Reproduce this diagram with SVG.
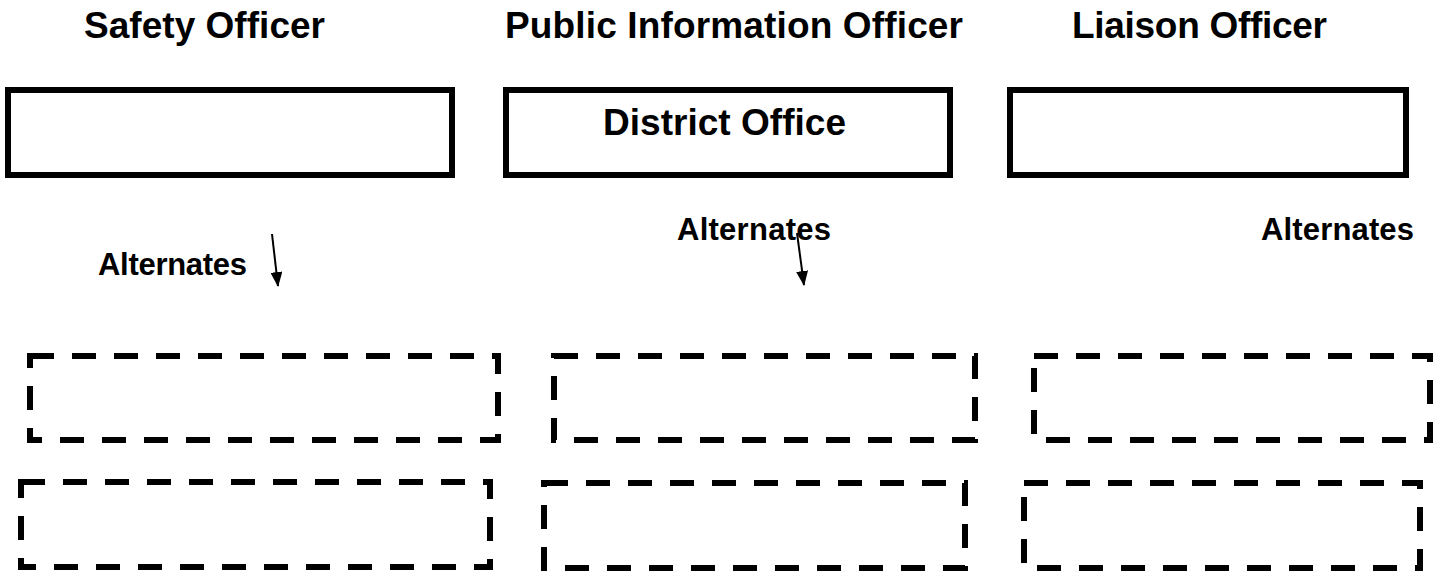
<svg xmlns="http://www.w3.org/2000/svg" width="1437" height="574" viewBox="0 0 1437 574">
<defs>
<style>
.t{font-family:"Liberation Sans",Arial,sans-serif;font-weight:bold;fill:#000}
.title{font-size:37px}
.alt{font-size:31px}
.solid{fill:#fff;stroke:#000;stroke-width:6}
.dash{fill:none;stroke:#000;stroke-width:6;stroke-dasharray:24 18}
.arrow{stroke:#000;stroke-width:2;fill:none}
</style>
<marker id="ah" viewBox="0 0 15 12" refX="14" refY="6" markerWidth="15" markerHeight="12" markerUnits="userSpaceOnUse" orient="auto">
<path d="M0,0 L15,6 L0,12 z" fill="#000"/>
</marker>
</defs>
<rect width="1437" height="574" fill="#fff"/>
<g id="safety-officer">
<text class="t title" x="84" y="38" textLength="241">Safety Officer</text>
<rect class="solid" x="8" y="90" width="444" height="85"/>
<text class="t alt" x="98" y="275" textLength="149">Alternates</text>
<rect class="dash" x="30" y="356" width="468" height="84"/>
<rect class="dash" x="21" y="482" width="469" height="85"/>
</g>
<g id="public-information-officer">
<text class="t title" x="505" y="38" textLength="458">Public Information Officer</text>
<rect class="solid" x="506" y="90" width="444" height="85"/>
<text class="t" x="603" y="135" font-size="37" textLength="243">District Office</text>
<text class="t alt" x="677" y="240" textLength="154">Alternates</text>
<rect class="dash" x="554" y="356" width="421" height="84"/>
<rect class="dash" x="544" y="483" width="421" height="85"/>
</g>
<g id="liaison-officer">
<text class="t title" x="1072" y="38" textLength="255">Liaison Officer</text>
<rect class="solid" x="1010" y="90" width="396" height="85"/>
<text class="t alt" x="1261" y="240" textLength="153">Alternates</text>
<rect class="dash" x="1034" y="356" width="396" height="84"/>
<rect class="dash" x="1024" y="483" width="396" height="85"/>
</g>
<g id="connectors">
<line class="arrow" x1="272" y1="234" x2="278" y2="286" marker-end="url(#ah)"/>
<line class="arrow" x1="797" y1="233" x2="804" y2="285" marker-end="url(#ah)"/>
</g>
</svg>
